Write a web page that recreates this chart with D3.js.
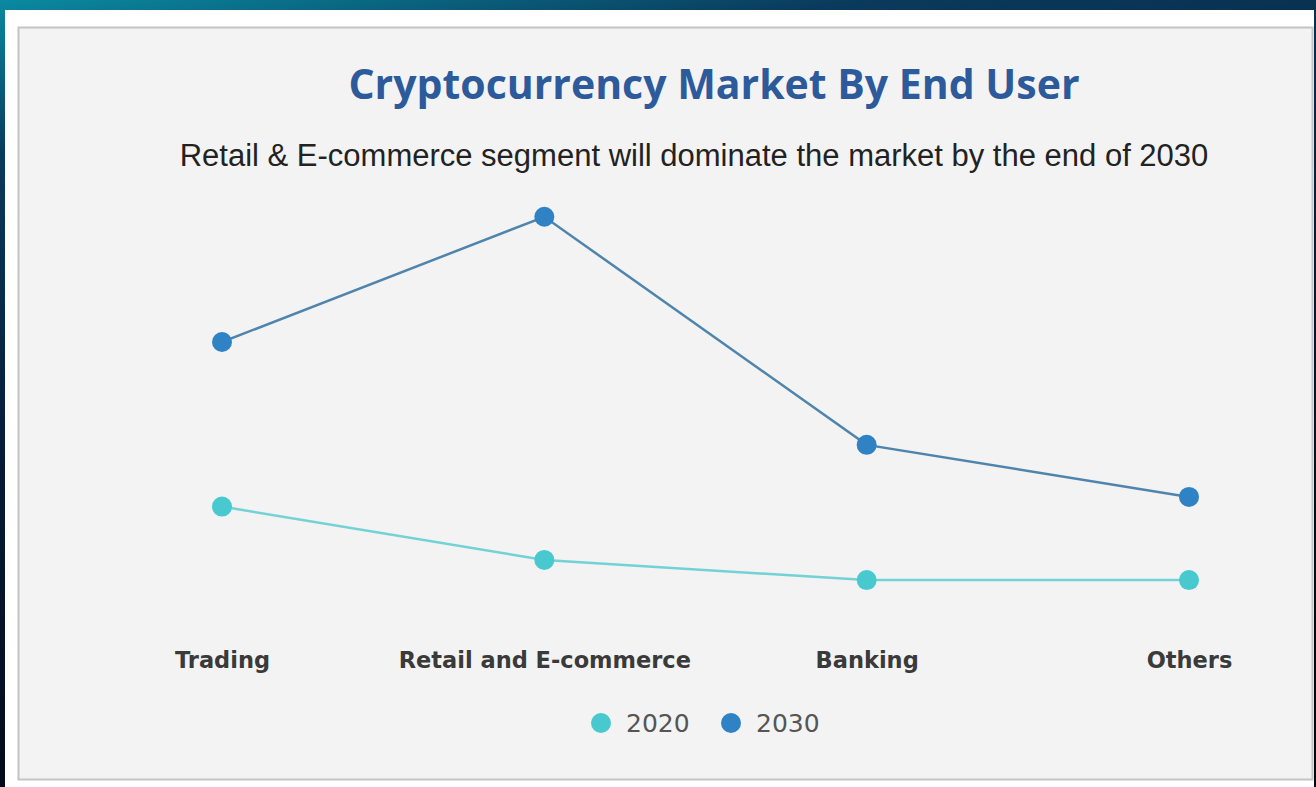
<!DOCTYPE html>
<html>
<head>
<meta charset="utf-8">
<script src="https://cdn.jsdelivr.net/npm/d3@7"></script>
<style>
  html, body { margin: 0; padding: 0; background: #050f22; }
  svg { display: block; }
</style>
</head>
<body>
<svg id="chart" width="1316" height="787"></svg>
<script>
// data (no axis shown, relative values)
const categories = ["Trading", "Retail and E-commerce", "Banking", "Others"];
const years = ["2020", "2030"];
const values2020 = [2.7, 1.43, 0.95, 0.95];
const values2030 = [6.62, 9.6, 4.17, 2.93];

const colors = {
  "2020": { line: "#72d2d6", dot: "#48c9d0" },
  "2030": { line: "#4f84ad", dot: "#2f83c4" }
};

const svg = d3.select("#chart");
const width = +svg.attr("width");
const height = +svg.attr("height");

// backdrop
const defs = svg.append("defs");
const bg = defs.append("linearGradient").attr("id", "bg")
  .attr("x1", 0).attr("y1", 0).attr("x2", 0.3).attr("y2", 1);
bg.append("stop").attr("offset", "0%").attr("stop-color", "#0a8aa0");
bg.append("stop").attr("offset", "18%").attr("stop-color", "#0a3a5c");
bg.append("stop").attr("offset", "55%").attr("stop-color", "#061a36");
bg.append("stop").attr("offset", "100%").attr("stop-color", "#030814");
svg.append("rect").attr("width", width).attr("height", height).attr("fill", "url(#bg)");

// white frame + gray panel
svg.append("rect").attr("x", 5).attr("y", 10).attr("width", 1309).attr("height", 777).attr("fill", "#ffffff");
svg.append("rect").attr("x", 18.5).attr("y", 27.5).attr("width", 1294).attr("height", 752)
  .attr("fill", "#f3f3f3").attr("stroke", "#c4c4c4").attr("stroke-width", 2);

// titles
svg.append("text")
  .attr("x", 714).attr("y", 99)
  .attr("text-anchor", "middle")
  .style("font-family", "'Open Sans', sans-serif")
  .style("font-weight", "bold")
  .style("font-size", "41px")
  .style("fill", "#2d5a9b")
  .text("Cryptocurrency Market By End User");

svg.append("text")
  .attr("x", 694).attr("y", 166)
  .attr("text-anchor", "middle")
  .style("font-family", "'Liberation Sans', Arial, sans-serif")
  .style("font-size", "31px")
  .style("fill", "#222")
  .text("Retail & E-commerce segment will dominate the market by the end of 2030");

// scales
const x = d3.scalePoint().domain(categories).range([222, 1189]);
const y = d3.scaleLinear().domain([0, 10]).range([620, 200]);

const series = [
  { year: "2020", values: values2020 },
  { year: "2030", values: values2030 }
];

const line = d3.line()
  .x((d, i) => x(categories[i]))
  .y(d => y(d));

const g = svg.append("g");

g.selectAll("path.series")
  .data(series)
  .enter().append("path")
  .attr("class", "series")
  .attr("d", d => line(d.values))
  .attr("fill", "none")
  .attr("stroke", d => colors[d.year].line)
  .attr("stroke-width", 2.5);

series.forEach(s => {
  g.selectAll("circle.dot" + s.year)
    .data(s.values)
    .enter().append("circle")
    .attr("cx", (d, i) => x(categories[i]))
    .attr("cy", d => y(d))
    .attr("r", 10)
    .attr("fill", colors[s.year].dot);
});

// x axis labels, no line or ticks
const xAxis = d3.axisBottom(x).tickSize(0).tickPadding(0);
const axisG = svg.append("g").attr("transform", "translate(0,652)").call(xAxis);
axisG.select(".domain").remove();
axisG.selectAll("text")
  .style("font-family", "'DejaVu Sans', Verdana, sans-serif")
  .style("font-weight", "bold")
  .style("font-size", "22.5px")
  .style("fill", "#3a3a3a");

// legend
const legend = svg.append("g").attr("transform", "translate(601,723)");
const items = legend.selectAll("g")
  .data(years)
  .enter().append("g")
  .attr("transform", (d, i) => `translate(${i * 130},0)`);
items.append("circle").attr("r", 10).attr("fill", d => colors[d].dot);
items.append("text")
  .attr("x", 25).attr("y", 9)
  .style("font-family", "'DejaVu Sans', Verdana, sans-serif")
  .style("font-size", "25px")
  .style("fill", "#555")
  .text(d => d);
</script>
</body>
</html>
